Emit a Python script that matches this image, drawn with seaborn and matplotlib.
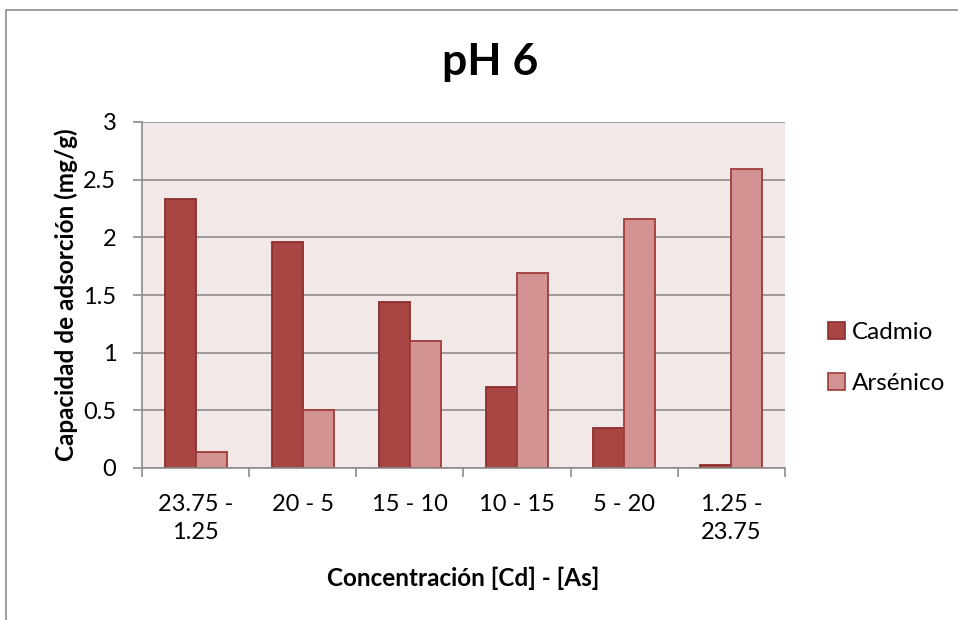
import matplotlib
matplotlib.use("Agg")
import matplotlib.pyplot as plt
from matplotlib.lines import Line2D
from matplotlib.patches import Patch
import seaborn as sns
import pandas as pd

# Adsorption capacity at pH 6 for each Cd/As concentration pair
categories = ["23.75 -\n1.25", "20 - 5", "15 - 10", "10 - 15", "5 - 20", "1.25 -\n23.75"]
cadmio = [2.33, 1.96, 1.44, 0.70, 0.35, 0.03]
arsenico = [0.14, 0.50, 1.10, 1.69, 2.16, 2.59]
series_names = ["Cadmio", "Arsénico"]
yticks = [0, 0.5, 1, 1.5, 2, 2.5, 3]
ytick_labels = ["0", "0.5", "1", "1.5", "2", "2.5", "3"]

fill_colors = {"Cadmio": "#A94644", "Arsénico": "#D39392"}
edge_colors = {"Cadmio": "#8A2E2D", "Arsénico": "#9E3C3B"}

df = pd.DataFrame({
    "Concentración": categories * 2,
    "Serie": [series_names[0]] * len(categories) + [series_names[1]] * len(categories),
    "Valor": cadmio + arsenico,
})

sns.set_theme(style="white")
plt.rcParams["font.family"] = ["Lato", "DejaVu Sans"]
plt.rcParams["text.color"] = "black"
plt.rcParams["axes.labelcolor"] = "black"
plt.rcParams["xtick.labelcolor"] = "black"
plt.rcParams["ytick.labelcolor"] = "black"

fig = plt.figure(figsize=(9.58, 6.2), dpi=100)
ax = fig.add_axes([142 / 958, 1 - 468 / 620, 643 / 958, 346 / 620])

sns.barplot(data=df, x="Concentración", y="Valor", hue="Serie",
            palette=fill_colors, width=0.58, gap=0, ax=ax, legend=False,
            saturation=1)

for container, name in zip(ax.containers, series_names):
    for bar in container:
        bar.set_edgecolor(edge_colors[name])
        bar.set_linewidth(1.3)

ax.set_facecolor("#F2E8E8")
ax.set_xlim(-0.5, len(categories) - 0.5)
ax.set_ylim(0, 3)
ax.set_yticks(yticks)
ax.set_yticklabels(ytick_labels, fontsize=17)
ax.yaxis.grid(True, color="#8C8C8C", linewidth=1.2)
ax.set_axisbelow(True)

# category labels centred, tick marks at the category boundaries
ax.set_xticks(range(len(categories)))
ax.set_xticklabels(categories, fontsize=17, linespacing=1.4)
ax.set_xticks([i - 0.5 for i in range(len(categories) + 1)], minor=True)
ax.tick_params(axis="x", which="major", length=0, pad=19)
ax.tick_params(axis="x", which="minor", length=6.5, width=1.2, color="#8C8C8C", bottom=True)
ax.tick_params(axis="y", which="major", length=6.5, width=1.2, color="#8C8C8C", left=True, pad=12)

for side in ["top", "right"]:
    ax.spines[side].set_visible(False)
for side in ["left", "bottom"]:
    ax.spines[side].set_color("#8C8C8C")
    ax.spines[side].set_linewidth(1.2)

ax.set_xlabel("Concentración [Cd] - [As]", fontsize=17.5, fontweight="bold")
ax.xaxis.set_label_coords(0.5, -(578 - 468) / 346)
ax.xaxis.label.set_va("center")
ax.set_ylabel("Capacidad de adsorción (mg/g)", fontsize=17.5, fontweight="bold")
ax.yaxis.set_label_coords(-(142 - 66) / 643, 0.5)
ax.yaxis.label.set_va("center")
fig.text(490 / 958, 1 - 62 / 620, "pH 6", fontsize=32, fontweight="bold",
         ha="center", va="center", color="black")

handles = [Patch(facecolor=fill_colors[n], edgecolor=edge_colors[n], linewidth=1.2, label=n)
           for n in series_names]
fig.legend(handles=handles, loc="center left", bbox_to_anchor=(828 / 958, 1 - 358 / 620),
           frameon=False, fontsize=17.5, handlelength=0.7, handleheight=0.7,
           handletextpad=0.3, labelspacing=1.2, borderpad=0, borderaxespad=0)

# chart-area border
fig.add_artist(Line2D([5.5 / 958, 1], [1 - 9.5 / 620] * 2, color="#8C8C8C", linewidth=1.2))
fig.add_artist(Line2D([5.5 / 958] * 2, [0, 1 - 9.5 / 620], color="#8C8C8C", linewidth=1.2))

fig.savefig("out.png", dpi=100)
